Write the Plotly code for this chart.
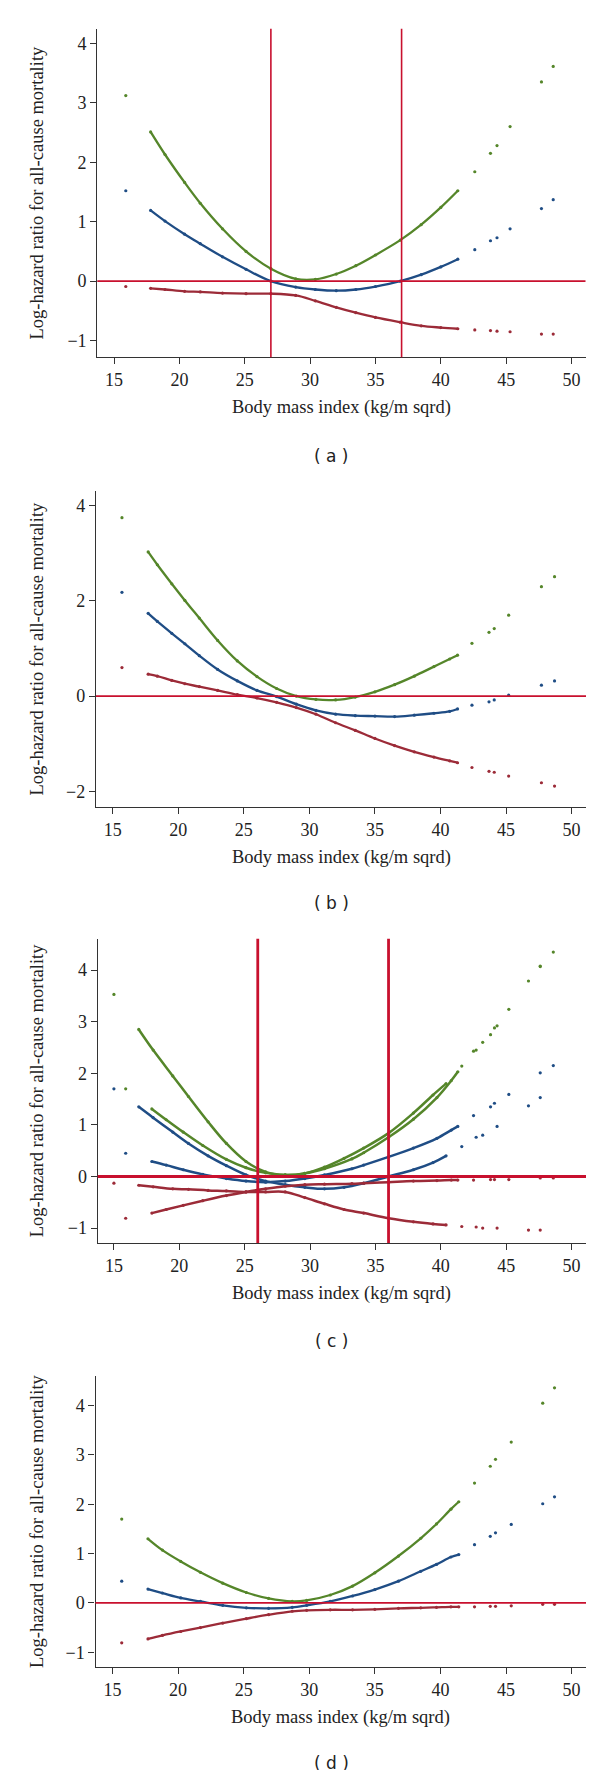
import plotly.graph_objects as go

# ---------------- data ----------------
# Panel (a)
BMI_A = [15.9, 17.8, 18.9, 20.4, 21.6, 23.3, 25.1, 27.0, 28.9, 30.4, 32.0, 33.5, 35.0,
         36.9, 38.5, 40.0, 41.3, 42.6, 43.8, 44.3, 45.3, 47.7, 48.6]
GREEN_A = [3.12, 2.51, 2.13, 1.66, 1.31, 0.88, 0.50, 0.21, 0.04, 0.03, 0.12, 0.26, 0.44,
           0.69, 0.95, 1.24, 1.52, 1.84, 2.15, 2.28, 2.60, 3.35, 3.61]
BLUE_A = [1.52, 1.19, 1.01, 0.79, 0.63, 0.41, 0.20, 0.00, -0.10, -0.14, -0.16, -0.14, -0.09,
          0.00, 0.11, 0.24, 0.37, 0.53, 0.68, 0.73, 0.88, 1.22, 1.37]
RED_A = [-0.09, -0.12, -0.14, -0.17, -0.18, -0.20, -0.21, -0.21, -0.24, -0.33, -0.44, -0.53, -0.61,
         -0.69, -0.75, -0.78, -0.80, -0.82, -0.83, -0.84, -0.85, -0.89, -0.89]
VLINES_A = [27, 37]

# Panel (b)
BMI_B = [15.7, 17.7, 18.4, 19.5, 20.5, 21.6, 23.0, 24.5, 26.0, 27.5, 29.0, 30.5, 32.0,
         33.5, 35.0, 36.5, 38.0, 39.5, 40.7, 41.3, 42.4, 43.7, 44.1, 45.2, 47.7, 48.7]
GREEN_B = [3.75, 3.03, 2.76, 2.36, 2.01, 1.64, 1.17, 0.74, 0.41, 0.16, 0.00, -0.07, -0.08,
           -0.02, 0.09, 0.24, 0.42, 0.62, 0.78, 0.86, 1.11, 1.34, 1.42, 1.70, 2.30, 2.51]
BLUE_B = [2.18, 1.74, 1.57, 1.32, 1.10, 0.85, 0.56, 0.32, 0.12, -0.01, -0.17, -0.30, -0.38,
          -0.41, -0.42, -0.43, -0.40, -0.36, -0.32, -0.27, -0.19, -0.12, -0.08, 0.02, 0.23, 0.32]
RED_B = [0.60, 0.46, 0.42, 0.33, 0.26, 0.20, 0.12, 0.03, -0.04, -0.13, -0.24, -0.38, -0.56,
         -0.72, -0.89, -1.04, -1.17, -1.28, -1.36, -1.40, -1.50, -1.58, -1.60, -1.68, -1.82, -1.89]

# Panel (c) - model 1
BMI_C1 = [15.0, 16.9, 18.0, 19.5, 20.7, 22.2, 23.6, 25.1, 26.6, 28.1, 29.6, 31.1, 32.6,
          34.1, 36.0, 37.9, 39.4, 40.4, 41.6, 42.7, 43.2, 44.3, 46.7, 47.6]
GREEN_C1 = [3.53, 2.85, 2.45, 1.95, 1.55, 1.06, 0.64, 0.29, 0.09, 0.03, 0.06, 0.18, 0.35,
            0.55, 0.84, 1.23, 1.58, 1.80, 2.14, 2.45, 2.60, 2.92, 3.79, 4.08]
BLUE_C1 = [1.70, 1.35, 1.14, 0.86, 0.64, 0.40, 0.21, 0.03, -0.09, -0.16, -0.21, -0.24, -0.21,
           -0.13, 0.00, 0.13, 0.27, 0.40, 0.58, 0.76, 0.80, 0.97, 1.37, 1.53]
RED_C1 = [-0.13, -0.17, -0.20, -0.24, -0.25, -0.27, -0.28, -0.30, -0.30, -0.30, -0.41, -0.53, -0.64,
          -0.71, -0.81, -0.88, -0.92, -0.94, -0.97, -0.98, -1.00, -1.00, -1.04, -1.04]
# Panel (c) - model 2
BMI_C2 = [15.9, 17.9, 19.0, 20.3, 21.8, 23.6, 25.1, 26.6, 28.1, 29.6, 31.1, 33.2, 34.1,
          36.0, 37.9, 39.7, 40.8, 41.3, 42.5, 43.8, 44.1, 45.2, 47.6, 48.6]
GREEN_C2 = [1.70, 1.31, 1.10, 0.86, 0.60, 0.33, 0.17, 0.07, 0.03, 0.06, 0.15, 0.34, 0.46,
            0.76, 1.11, 1.53, 1.86, 2.03, 2.43, 2.75, 2.88, 3.24, 4.07, 4.35]
BLUE_C2 = [0.45, 0.29, 0.22, 0.13, 0.04, -0.04, -0.09, -0.11, -0.09, -0.04, 0.03, 0.15, 0.22,
           0.38, 0.55, 0.74, 0.90, 0.97, 1.18, 1.35, 1.42, 1.59, 2.01, 2.15]
RED_C2 = [-0.81, -0.71, -0.64, -0.56, -0.47, -0.37, -0.30, -0.24, -0.19, -0.16, -0.15, -0.14, -0.13,
          -0.11, -0.09, -0.08, -0.07, -0.07, -0.07, -0.06, -0.06, -0.06, -0.03, -0.03]
VLINES_C = [26, 36]

# Panel (d)
BMI_D = [15.7, 17.7, 18.8, 20.2, 21.7, 23.4, 25.2, 26.9, 28.7, 29.8, 31.6, 33.3, 35.0,
         36.8, 38.5, 39.7, 40.8, 41.4, 42.6, 43.8, 44.2, 45.4, 47.8, 48.7]
GREEN_D = [1.70, 1.30, 1.07, 0.84, 0.62, 0.40, 0.21, 0.09, 0.03, 0.05, 0.16, 0.34, 0.61,
           0.95, 1.31, 1.60, 1.90, 2.05, 2.43, 2.77, 2.91, 3.26, 4.05, 4.36]
BLUE_D = [0.44, 0.28, 0.20, 0.10, 0.03, -0.05, -0.10, -0.11, -0.09, -0.05, 0.03, 0.14, 0.27,
          0.44, 0.64, 0.78, 0.93, 0.98, 1.18, 1.35, 1.42, 1.59, 2.01, 2.15]
RED_D = [-0.81, -0.73, -0.66, -0.58, -0.50, -0.41, -0.32, -0.24, -0.17, -0.15, -0.14, -0.14, -0.13,
         -0.11, -0.10, -0.09, -0.08, -0.08, -0.08, -0.07, -0.07, -0.06, -0.03, -0.03]

X_TICKS = [15, 20, 25, 30, 35, 40, 45, 50]
X_TITLE = "Body mass index (kg/m sqrd)"
Y_TITLE = "Log-hazard ratio for all-cause mortality"
PANEL_LABELS = ["( a )", "( b )", "( c )", "( d )"]

# ---------------- styling ----------------
W, H = 600, 1770
GREEN = "#55862a"
BLUE = "#1f4d85"
RED = "#9c2b38"
REF = "#c8102e"
AXC = "#333333"
SERIF = "Liberation Serif, Times New Roman, serif"
SANS = "DejaVu Sans, Verdana, sans-serif"
DENSE_MAX = 41.45

# pixel geometry per panel: (x_left, x_right, y_top, y_bottom), x range, y range, y dtick
PANELS = [
    dict(px=(89.3, 577.5, 20.7, 349.3), xr=[13.72, 51.07], yr=[-1.28, 4.245], dt=1, lab_y=448),
    dict(px=(88.0, 578.0, 483.0, 799.0), xr=[13.72, 51.10], yr=[-2.33, 4.31], dt=2, lab_y=895),
    dict(px=(89.7, 578.0, 930.7, 1235.0), xr=[13.76, 51.10], yr=[-1.29, 4.61], dt=1, lab_y=1333),
    dict(px=(87.5, 578.0, 1368.0, 1659.0), xr=[13.70, 51.10], yr=[-1.30, 4.60], dt=1, lab_y=1755),
]

fig = go.Figure()


def add_series(idx, xs, ys, color, lw=2.3, start=1):
    xa = "x" if idx == 1 else f"x{idx}"
    ya = "y" if idx == 1 else f"y{idx}"
    dx = [x for i, x in enumerate(xs) if i >= start and x <= DENSE_MAX]
    dy = [y for i, (x, y) in enumerate(zip(xs, ys)) if i >= start and x <= DENSE_MAX]
    fig.add_trace(go.Scatter(x=dx, y=dy, mode="lines", xaxis=xa, yaxis=ya,
                             line=dict(color=color, width=lw, shape="spline", smoothing=1.0),
                             hoverinfo="skip", showlegend=False))
    fig.add_trace(go.Scatter(x=xs, y=ys, mode="markers", xaxis=xa, yaxis=ya,
                             marker=dict(color=color, size=3.2, line=dict(width=0)),
                             hoverinfo="skip", showlegend=False))


add_series(1, BMI_A, GREEN_A, GREEN)
add_series(1, BMI_A, BLUE_A, BLUE)
add_series(1, BMI_A, RED_A, RED)

add_series(2, BMI_B, GREEN_B, GREEN)
add_series(2, BMI_B, BLUE_B, BLUE)
add_series(2, BMI_B, RED_B, RED)

add_series(3, BMI_C1, GREEN_C1, GREEN, 2.5)
add_series(3, BMI_C1, BLUE_C1, BLUE, 2.5)
add_series(3, BMI_C1, RED_C1, RED, 2.5)
add_series(3, BMI_C2, GREEN_C2, GREEN, 2.5)
add_series(3, BMI_C2, BLUE_C2, BLUE, 2.5)
add_series(3, BMI_C2, RED_C2, RED, 2.5)

add_series(4, BMI_D, GREEN_D, GREEN)
add_series(4, BMI_D, BLUE_D, BLUE)
add_series(4, BMI_D, RED_D, RED)

layout = dict(width=W, height=H, margin=dict(l=0, r=0, t=0, b=0),
              paper_bgcolor="white", plot_bgcolor="white", showlegend=False)
shapes = []
annotations = []

for i, p in enumerate(PANELS, start=1):
    xl, xr_, yt, yb = p["px"]
    xk = "xaxis" if i == 1 else f"xaxis{i}"
    yk = "yaxis" if i == 1 else f"yaxis{i}"
    xid = "x" if i == 1 else f"x{i}"
    yid = "y" if i == 1 else f"y{i}"
    common = dict(showline=True, linecolor=AXC, linewidth=1.3, ticks="outside", ticklen=6,
                  tickwidth=1.2, tickcolor=AXC, showgrid=False, zeroline=False,
                  tickfont=dict(family=SERIF, size=18, color="#222"), fixedrange=True)
    layout[xk] = dict(domain=[xl / W, xr_ / W], range=p["xr"], anchor=yid,
                      tickvals=X_TICKS, **common)
    layout[yk] = dict(domain=[1 - yb / H, 1 - yt / H], range=p["yr"], anchor=xid,
                      dtick=p["dt"], tick0=0, **common)
    # horizontal reference line at 0
    shapes.append(dict(type="line", xref=f"{xid} domain", yref=yid, x0=0, x1=1.0, y0=0, y1=0,
                       line=dict(color=REF, width=3 if i == 3 else 1.6), layer="above"))
    # axis titles
    annotations.append(dict(text=X_TITLE, xref="paper", yref="paper",
                            x=((xl + xr_) / 2) / W, y=1 - (yb + 50) / H, showarrow=False,
                            xanchor="center", yanchor="middle",
                            font=dict(family=SERIF, size=18.5, color="#222")))
    annotations.append(dict(text=Y_TITLE, xref="paper", yref="paper", textangle=-90,
                            x=28.5 / W, y=1 - ((yt + yb) / 2) / H, showarrow=False,
                            xanchor="center", yanchor="middle",
                            font=dict(family=SERIF, size=18.5, color="#222")))
    annotations.append(dict(text=PANEL_LABELS[i - 1], xref="paper", yref="paper",
                            x=323 / W, y=1 - p["lab_y"] / H, showarrow=False,
                            xanchor="center", yanchor="middle",
                            font=dict(family=SANS, size=17, color="#222")))

for v in VLINES_A:
    shapes.append(dict(type="line", xref="x", yref="y domain", x0=v, x1=v, y0=0, y1=1,
                       line=dict(color=REF, width=1.6), layer="above"))
for v in VLINES_C:
    shapes.append(dict(type="line", xref="x3", yref="y3 domain", x0=v, x1=v, y0=0, y1=1,
                       line=dict(color=REF, width=2.8), layer="above"))

layout["shapes"] = shapes
layout["annotations"] = annotations
fig.update_layout(**layout)

fig.write_html("out.html")
